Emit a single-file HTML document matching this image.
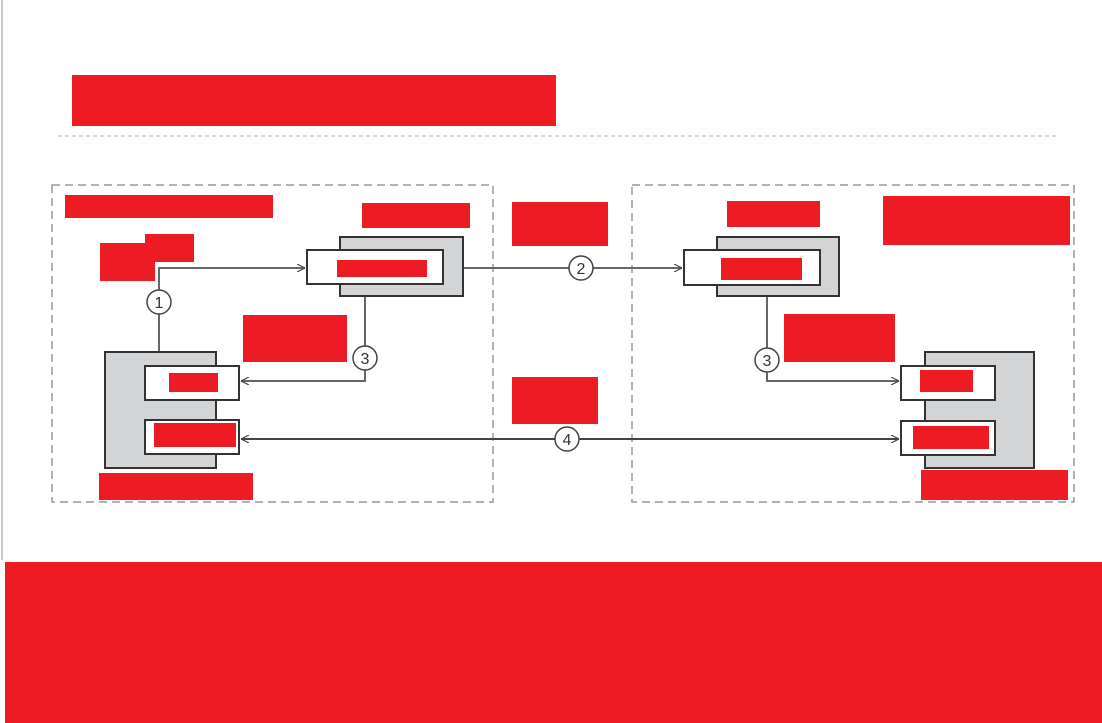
<!DOCTYPE html>
<html><head><style>html,body{margin:0;padding:0;background:#fff;width:1102px;height:723px;overflow:hidden}</style></head>
<body>
<svg width="1102" height="723" viewBox="0 0 1102 723" xmlns="http://www.w3.org/2000/svg" font-family="Liberation Sans, sans-serif">
<defs>
<marker id="a" viewBox="0 0 10 10" refX="10" refY="5" markerWidth="8" markerHeight="8" orient="auto-start-reverse" markerUnits="userSpaceOnUse"><path d="M0,0 L10,5 L0,10" fill="none" stroke="#444" stroke-width="1.5"/></marker>
</defs>
<line x1="2" y1="0" x2="2" y2="560" stroke="#ccc" stroke-width="2"/>
<rect x="72" y="75" width="484" height="51" fill="#ED1C24"/>
<line x1="58" y1="136" x2="1058" y2="136" stroke="#9bb8cc" stroke-dasharray="4,3"/>
<rect x="52" y="185" width="441" height="317" fill="none" stroke="#999" stroke-width="1.5" stroke-dasharray="8,5"/>
<rect x="632" y="185" width="442" height="317" fill="none" stroke="#999" stroke-width="1.5" stroke-dasharray="8,5"/>
<g stroke="#666" stroke-width="2" fill="none">
<path d="M159,352 V268 H305" marker-end="url(#a)"/>
<path d="M463,268 H682" marker-end="url(#a)"/>
<path d="M365,284 V381 H241" marker-end="url(#a)"/>
<path d="M767,285 V381 H899" marker-end="url(#a)"/>
<path d="M241,439 H899" stroke="#444" marker-start="url(#a)" marker-end="url(#a)"/>
</g>
<g stroke="#333" stroke-width="2">
<rect x="340" y="237" width="123" height="59" fill="#d3d4d6"/>
<rect x="307" y="250" width="136" height="34" fill="#fff"/>
<rect x="717" y="237" width="122" height="59" fill="#d3d4d6"/>
<rect x="684" y="250" width="136" height="35" fill="#fff"/>
<rect x="105" y="352" width="111" height="116" fill="#d3d4d6"/>
<rect x="145" y="366" width="94" height="34" fill="#fff"/>
<rect x="145" y="420" width="94" height="34" fill="#fff"/>
<rect x="925" y="352" width="109" height="116" fill="#d3d4d6"/>
<rect x="901" y="366" width="94" height="34" fill="#fff"/>
<rect x="901" y="421" width="94" height="34" fill="#fff"/>
</g>
<g stroke="#444" stroke-width="1.5" fill="#fff">
<circle cx="159" cy="302" r="12"/><circle cx="581" cy="268" r="12"/>
<circle cx="365" cy="358" r="12"/><circle cx="767" cy="360" r="12"/>
<circle cx="567" cy="439" r="12"/>
</g>
<g font-size="16" fill="#333" text-anchor="middle">
<text x="159" y="308">1</text><text x="581" y="274">2</text>
<text x="365" y="364">3</text><text x="767" y="366">3</text><text x="567" y="445">4</text>
</g>
<g fill="#ED1C24">
<rect x="65" y="195" width="208" height="23"/>
<rect x="362" y="203" width="108" height="25"/>
<rect x="100" y="243" width="55" height="38"/>
<rect x="145" y="234" width="49" height="28"/>
<rect x="512" y="202" width="96" height="44"/>
<rect x="727" y="201" width="93" height="26"/>
<rect x="883" y="196" width="187" height="49"/>
<rect x="243" y="315" width="104" height="47"/>
<rect x="784" y="314" width="111" height="48"/>
<rect x="512" y="377" width="86" height="47"/>
<rect x="99" y="473" width="154" height="27"/>
<rect x="921" y="470" width="147" height="30"/>
<rect x="337" y="260" width="90" height="17"/>
<rect x="721" y="258" width="81" height="22"/>
<rect x="169" y="373" width="49" height="19"/>
<rect x="154" y="423" width="82" height="24"/>
<rect x="920" y="370" width="53" height="22"/>
<rect x="913" y="426" width="76" height="23"/>
<rect x="5" y="562" width="1097" height="161"/>
</g>
</svg>
</body></html>
